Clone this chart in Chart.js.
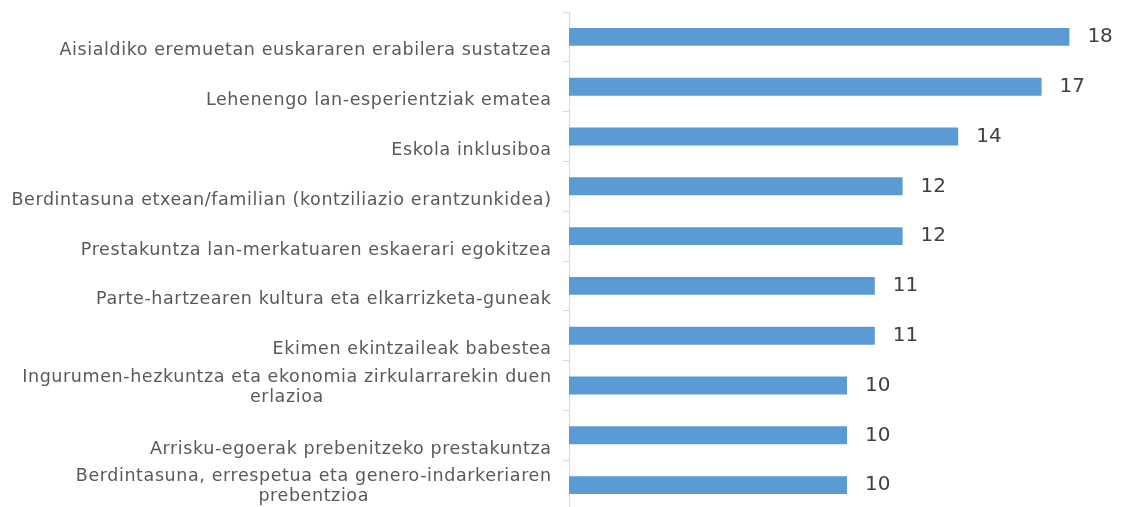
<!DOCTYPE html>
<html>
<head>
<meta charset="utf-8">
<script src="https://cdn.jsdelivr.net/npm/chart.js@4.4.1/dist/chart.umd.min.js"></script>
<style>
  html, body { margin: 0; padding: 0; background: #ffffff; overflow: hidden; }
  #wrap { width: 1121px; height: 507px; position: relative; overflow: hidden; }
  #c { position: absolute; left: 0; top: 0; }
</style>
</head>
<body>
<div id="wrap"><canvas id="c" width="1125" height="510"></canvas></div>
<script>
const categories = [
  ["Aisialdiko eremuetan euskararen erabilera sustatzea"],
  ["Lehenengo lan-esperientziak ematea"],
  ["Eskola inklusiboa"],
  ["Berdintasuna etxean/familian (kontziliazio erantzunkidea)"],
  ["Prestakuntza lan-merkatuaren eskaerari egokitzea"],
  ["Parte-hartzearen kultura eta elkarrizketa-guneak"],
  ["Ekimen ekintzaileak babestea"],
  ["Ingurumen-hezkuntza eta ekonomia zirkularrarekin duen", "erlazioa"],
  ["Arrisku-egoerak prebenitzeko prestakuntza"],
  ["Berdintasuna, errespetua eta genero-indarkeriaren", "prebentzioa"]
];
const values = [18, 17, 14, 12, 12, 11, 11, 10, 10, 10];
const axisMin = 0;
const axisMax = 20;

const LABEL_FONT = '17.5px "DejaVu Sans", Verdana, sans-serif';
const LABEL_SPACING = 0.6;
const VALUE_FONT = '20px "DejaVu Sans", Verdana, sans-serif';

const categoryLabelsPlugin = {
  id: 'categoryLabels',
  afterDraw(chart) {
    const ctx = chart.ctx;
    const y = chart.scales.y;
    const right = chart.chartArea.left - 18 + LABEL_SPACING;
    const lh = 20;
    ctx.save();
    ctx.font = LABEL_FONT;
    if ('letterSpacing' in ctx) ctx.letterSpacing = LABEL_SPACING + 'px';
    ctx.fillStyle = '#595959';
    ctx.textBaseline = 'alphabetic';
    ctx.textAlign = 'center';
    categories.forEach((lines, i) => {
      const c = y.getPixelForTick(i);
      const lastY = c + (lines.length === 1 ? 18.5 : 16);
      const maxW = Math.max(...lines.map(l => ctx.measureText(l).width));
      const cx = right - maxW / 2;
      lines.forEach((l, j) => {
        const ly = lastY - (lines.length - 1 - j) * lh;
        ctx.fillText(l, cx, ly);
      });
    });
    ctx.restore();
  }
};

const valueLabelsPlugin = {
  id: 'valueLabels',
  afterDatasetsDraw(chart) {
    const ctx = chart.ctx;
    const meta = chart.getDatasetMeta(0);
    ctx.save();
    ctx.font = VALUE_FONT;
    ctx.fillStyle = '#404040';
    ctx.textBaseline = 'middle';
    ctx.textAlign = 'left';
    meta.data.forEach((bar, i) => {
      ctx.fillText(String(values[i]), bar.x + 18, bar.y);
    });
    ctx.restore();
  }
};

new Chart(document.getElementById('c'), {
  type: 'bar',
  data: {
    labels: categories,
    datasets: [{
      data: values,
      backgroundColor: '#5B9BD5',
      borderWidth: 0,
      categoryPercentage: 1,
      barPercentage: 0.36
    }]
  },
  options: {
    indexAxis: 'y',
    responsive: false,
    animation: false,
    events: [],
    layout: { padding: { top: 12, bottom: 0, right: 0, left: 0 } },
    plugins: { legend: { display: false }, tooltip: { enabled: false } },
    scales: {
      x: { display: false, min: axisMin, max: axisMax },
      y: {
        offset: true,
        afterFit(scale) { scale.width = 569; },
        ticks: { display: false },
        grid: {
          offset: true,
          drawOnChartArea: false,
          drawTicks: true,
          tickLength: 6,
          color: '#d9d9d9',
          lineWidth: 1
        },
        border: { display: true, color: '#d9d9d9', width: 1 }
      }
    }
  },
  plugins: [categoryLabelsPlugin, valueLabelsPlugin]
});
</script>
</body>
</html>
